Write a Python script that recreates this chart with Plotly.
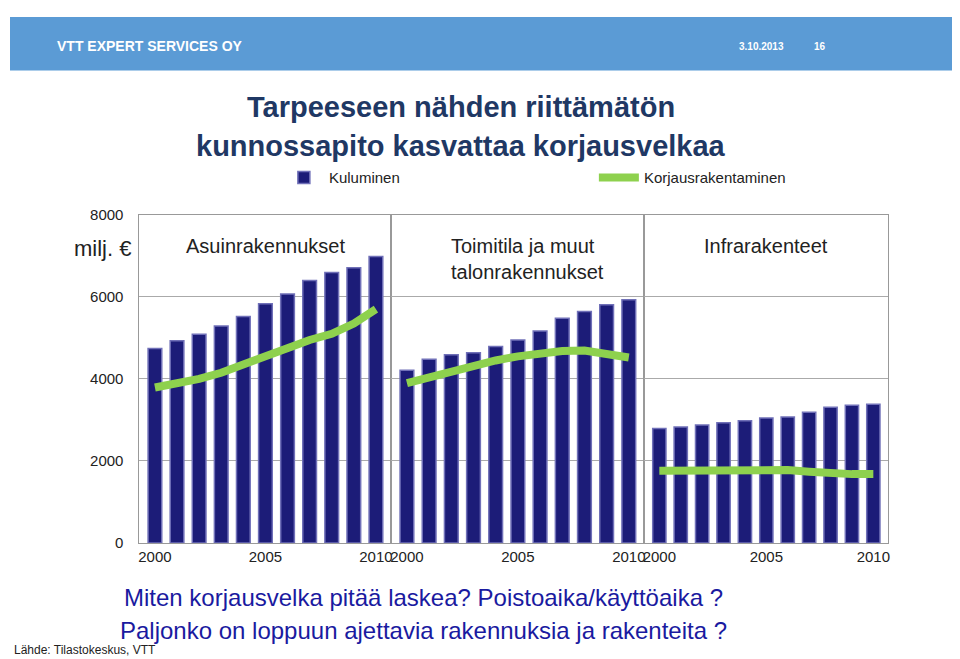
import plotly.graph_objects as go
from plotly.subplots import make_subplots

years = list(range(2000, 2011))
panels = ["Asuinrakennukset", "Toimitila ja muut<br>talonrakennukset", "Infrarakenteet"]
kuluminen = [
    [4740, 4930, 5090, 5290, 5520, 5830, 6070, 6400, 6590, 6710, 6980],
    [4210, 4480, 4590, 4640, 4790, 4950, 5170, 5480, 5640, 5810, 5930],
    [2790, 2830, 2880, 2930, 2980, 3050, 3070, 3190, 3310, 3360, 3380],
]
korjaus = [
    [3790, 3880, 4000, 4150, 4350, 4550, 4780, 4950, 5100, 5350, 5700],
    [3900, 4050, 4200, 4350, 4450, 4550, 4620, 4680, 4690, 4620, 4520],
    [1760, 1760, 1770, 1790, 1800, 1800, 1780, 1740, 1690, 1680, 1680],
]

fig = make_subplots(rows=1, cols=3, shared_yaxes=True, horizontal_spacing=0)
for i in range(3):
    fig.add_trace(go.Bar(x=years, y=kuluminen[i], name="Kuluminen", width=0.62,
                         marker=dict(color="#1c1c78", line=dict(color="#7070b8", width=1.5)),
                         showlegend=(i == 0)), row=1, col=i + 1)
    fig.add_trace(go.Scatter(x=years, y=korjaus[i], mode="lines", name="Korjausrakentaminen",
                             line=dict(color="#8ed14e", width=8), showlegend=(i == 0)),
                  row=1, col=i + 1)

bounds = [130, 383, 637, 882]
for i in range(3):
    ax = "xaxis" if i == 0 else f"xaxis{i+1}"
    fig.layout[ax].update(domain=[bounds[i] / 960, bounds[i + 1] / 960], range=[1999.3, 2010.7],
                          tickvals=[2000, 2005, 2010], showgrid=False, ticks="",
                          showline=True, linecolor="#999", mirror=True,
                          tickfont=dict(size=15, color="#222"))
    fig.add_annotation(text=panels[i], xref="paper", yref="paper",
                       x=(bounds[i] + bounds[i + 1]) / 2 / 960 + (0.01 if i == 1 else 0),
                       y=1 - 222 / 659, yanchor="top", xanchor="center",
                       showarrow=False, align="left",
                       font=dict(size=20, color="#222"))
fig.update_yaxes(range=[0, 8000], tickvals=[0, 2000, 4000, 6000, 8000], showgrid=True,
                 gridcolor="#aaa", domain=[(659 - 540) / 659, (659 - 203) / 659],
                 showline=True, linecolor="#999", mirror=True, ticks="", zeroline=False,
                 ticklabelstandoff=12, tickfont=dict(size=15, color="#222"))

fig.add_shape(type="rect", xref="paper", yref="paper", x0=0, x1=1, y0=1 - 55 / 659, y1=1,
              fillcolor="#5b9bd5", line=dict(width=0), layer="below")
ann = [
    ("<b>VTT EXPERT SERVICES OY</b>", 45, 30, 14, "white", "left"),
    ("<b>3.10.2013</b>", 730, 30, 10, "white", "left"),
    ("<b>16</b>", 805, 30, 10, "white", "left"),
    ("<b>Tarpeeseen nähden riittämätön</b>", 453, 92, 29, "#1f3864", "center"),
    ("<b>kunnossapito kasvattaa korjausvelkaa</b>", 453, 132, 29, "#1f3864", "center"),
    ("milj. €", 62, 238, 22, "#222", "left"),
    ("Miten korjausvelka pitää laskea? Poistoaika/käyttöaika ?", 112, 596, 24, "#1a1aa0", "left"),
    ("Paljonko on loppuun ajettavia rakennuksia ja rakenteita ?", 108, 630, 24, "#1a1aa0", "left"),
    ("Lähde: Tilastokeskus, VTT", 2, 650, 12, "#222", "left"),
]
for t, x, y, s, c, a in ann:
    fig.add_annotation(text=t, xref="paper", yref="paper", x=x / 960, y=1 - y / 659,
                       xanchor=a, yanchor="middle", showarrow=False, font=dict(size=s, color=c))

fig.update_layout(width=960, height=659, margin=dict(l=0, r=0, t=0, b=0),
                  plot_bgcolor="white", paper_bgcolor="white", bargap=0.4,
                  font=dict(family="Liberation Sans, Arial"),
                  legend=dict(orientation="h", x=270 / 960, xanchor="left", y=1 - 165 / 659,
                              yanchor="middle", font=dict(size=15, color="#222"),
                              itemwidth=40, entrywidth=260))
fig.write_html("out.html")
